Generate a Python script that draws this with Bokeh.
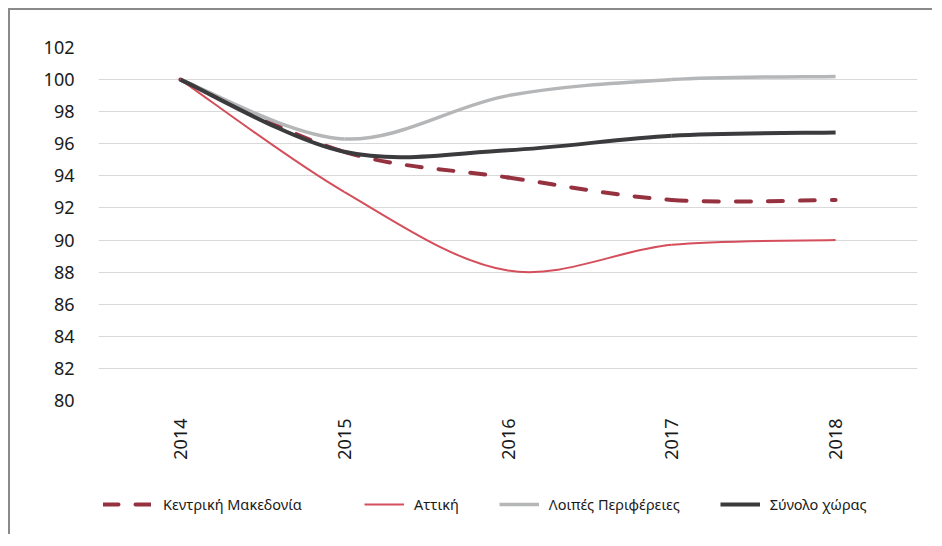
import math
from bokeh.plotting import figure
from bokeh.layouts import column
from bokeh.models import FixedTicker, Legend, LegendItem, Range1d, ColumnDataSource
from bokeh.embed import file_html
from bokeh.resources import INLINE

years = ["2014", "2015", "2016", "2017", "2018"]
kentriki = [100.0, 95.5, 93.9, 92.5, 92.5]
attiki = [100.0, 93.0, 88.1, 89.7, 90.0]
loipes = [100.0, 96.3, 99.0, 100.0, 100.2]
synolo = [100.0, 95.5, 95.6, 96.5, 96.7]
series_names = ["Κεντρική Μακεδονία", "Αττική", "Λοιπές Περιφέρειες", "Σύνολο χώρας"]
y_ticks = list(range(80, 103, 2))

FONT = "Noto Sans"


def smooth_segments(ys):
    """Bezier segments through the data points (Excel-style smoothed line)."""
    xs = list(range(len(ys)))
    n = len(ys)
    d = dict(x0=[], y0=[], x1=[], y1=[], cx0=[], cy0=[], cx1=[], cy1=[])
    for i in range(n - 1):
        a = max(i - 1, 0)
        b = min(i + 2, n - 1)
        d["x0"].append(xs[i]); d["y0"].append(ys[i])
        d["x1"].append(xs[i + 1]); d["y1"].append(ys[i + 1])
        d["cx0"].append(xs[i] + (xs[i + 1] - xs[a]) / 6.0)
        d["cy0"].append(ys[i] + (ys[i + 1] - ys[a]) / 6.0)
        d["cx1"].append(xs[i + 1] - (xs[b] - xs[i]) / 6.0)
        d["cy1"].append(ys[i + 1] - (ys[b] - ys[i]) / 6.0)
    return ColumnDataSource(d)


p = figure(width=924, height=460, x_range=Range1d(-0.5, 4.5), y_range=Range1d(80, 102),
           output_backend="svg", toolbar_location=None,
           min_border_left=88, min_border_right=17, min_border_top=37, min_border_bottom=70)
p.outline_line_color = None
p.background_fill_color = "white"
p.border_fill_color = "white"

p.xgrid.visible = False
p.ygrid.grid_line_color = "#D9D9D9"
p.ygrid.grid_line_width = 1

p.yaxis.ticker = FixedTicker(ticks=y_ticks)
p.xaxis.ticker = FixedTicker(ticks=list(range(len(years))))
p.xaxis.major_label_overrides = {i: y for i, y in enumerate(years)}
p.xaxis.major_label_orientation = math.pi / 2
for ax in (p.xaxis, p.yaxis):
    ax.axis_line_color = None
    ax.major_tick_line_color = None
    ax.minor_tick_line_color = None
    ax.major_label_text_font = FONT
    ax.major_label_text_font_size = "18px"
    ax.major_label_text_color = "#1a1a1a"
p.yaxis.major_label_standoff = 18
p.xaxis.major_label_standoff = 12

styles = [
    dict(line_color="#963240", line_width=4, line_dash="15 17", line_cap="round"),
    dict(line_color="#D44E5B", line_width=2),
    dict(line_color="#B5B6B8", line_width=3.5),
    dict(line_color="#3B3B3D", line_width=4),
]

all_series = [kentriki, attiki, loipes, synolo]
for ys, st in zip(all_series, styles):
    src = smooth_segments(ys)
    p.bezier(x0="x0", y0="y0", x1="x1", y1="y1", cx0="cx0", cy0="cy0",
             cx1="cx1", cy1="cy1", source=src, **st)

# legend strip below the chart (its own ranges keep the series lines out of view)
f2 = figure(width=924, height=66, x_range=Range1d(-0.5, 4.5), y_range=Range1d(0, 1),
            output_backend="svg", toolbar_location=None,
            x_axis_type=None, y_axis_type=None,
            min_border_left=0, min_border_right=0, min_border_top=0, min_border_bottom=0)
f2.outline_line_color = None
f2.xgrid.visible = False
f2.ygrid.visible = False
f2.background_fill_color = "white"
f2.border_fill_color = "white"

items = []
for name, ys, st in zip(series_names, all_series, styles):
    r = f2.line(x=list(range(len(ys))), y=ys, **st)
    items.append(LegendItem(label=name, renderers=[r]))

common = dict(orientation="horizontal", border_line_color=None, background_fill_alpha=0,
              label_text_font=FONT, label_text_font_size="14.5px", label_text_color="#1a1a1a",
              glyph_width=40, label_standoff=10, spacing=40, margin=0, padding=4)
legend_a = Legend(items=items[:1], location=(5, 22), **common)
legend_a.glyph_width = 48
legend_a.label_standoff = 12
legend_b = Legend(items=items[1:], location=(266, 22), **common)
f2.add_layout(legend_a, "center")
f2.add_layout(legend_b, "center")

layout = column(p, f2, spacing=0)
layout.stylesheets = [":host { margin-left: 10px; margin-top: 10px; box-shadow: -2px -2px 0 0 #8a8a8a; }"]

open("out.html", "w").write(file_html(layout, INLINE))
